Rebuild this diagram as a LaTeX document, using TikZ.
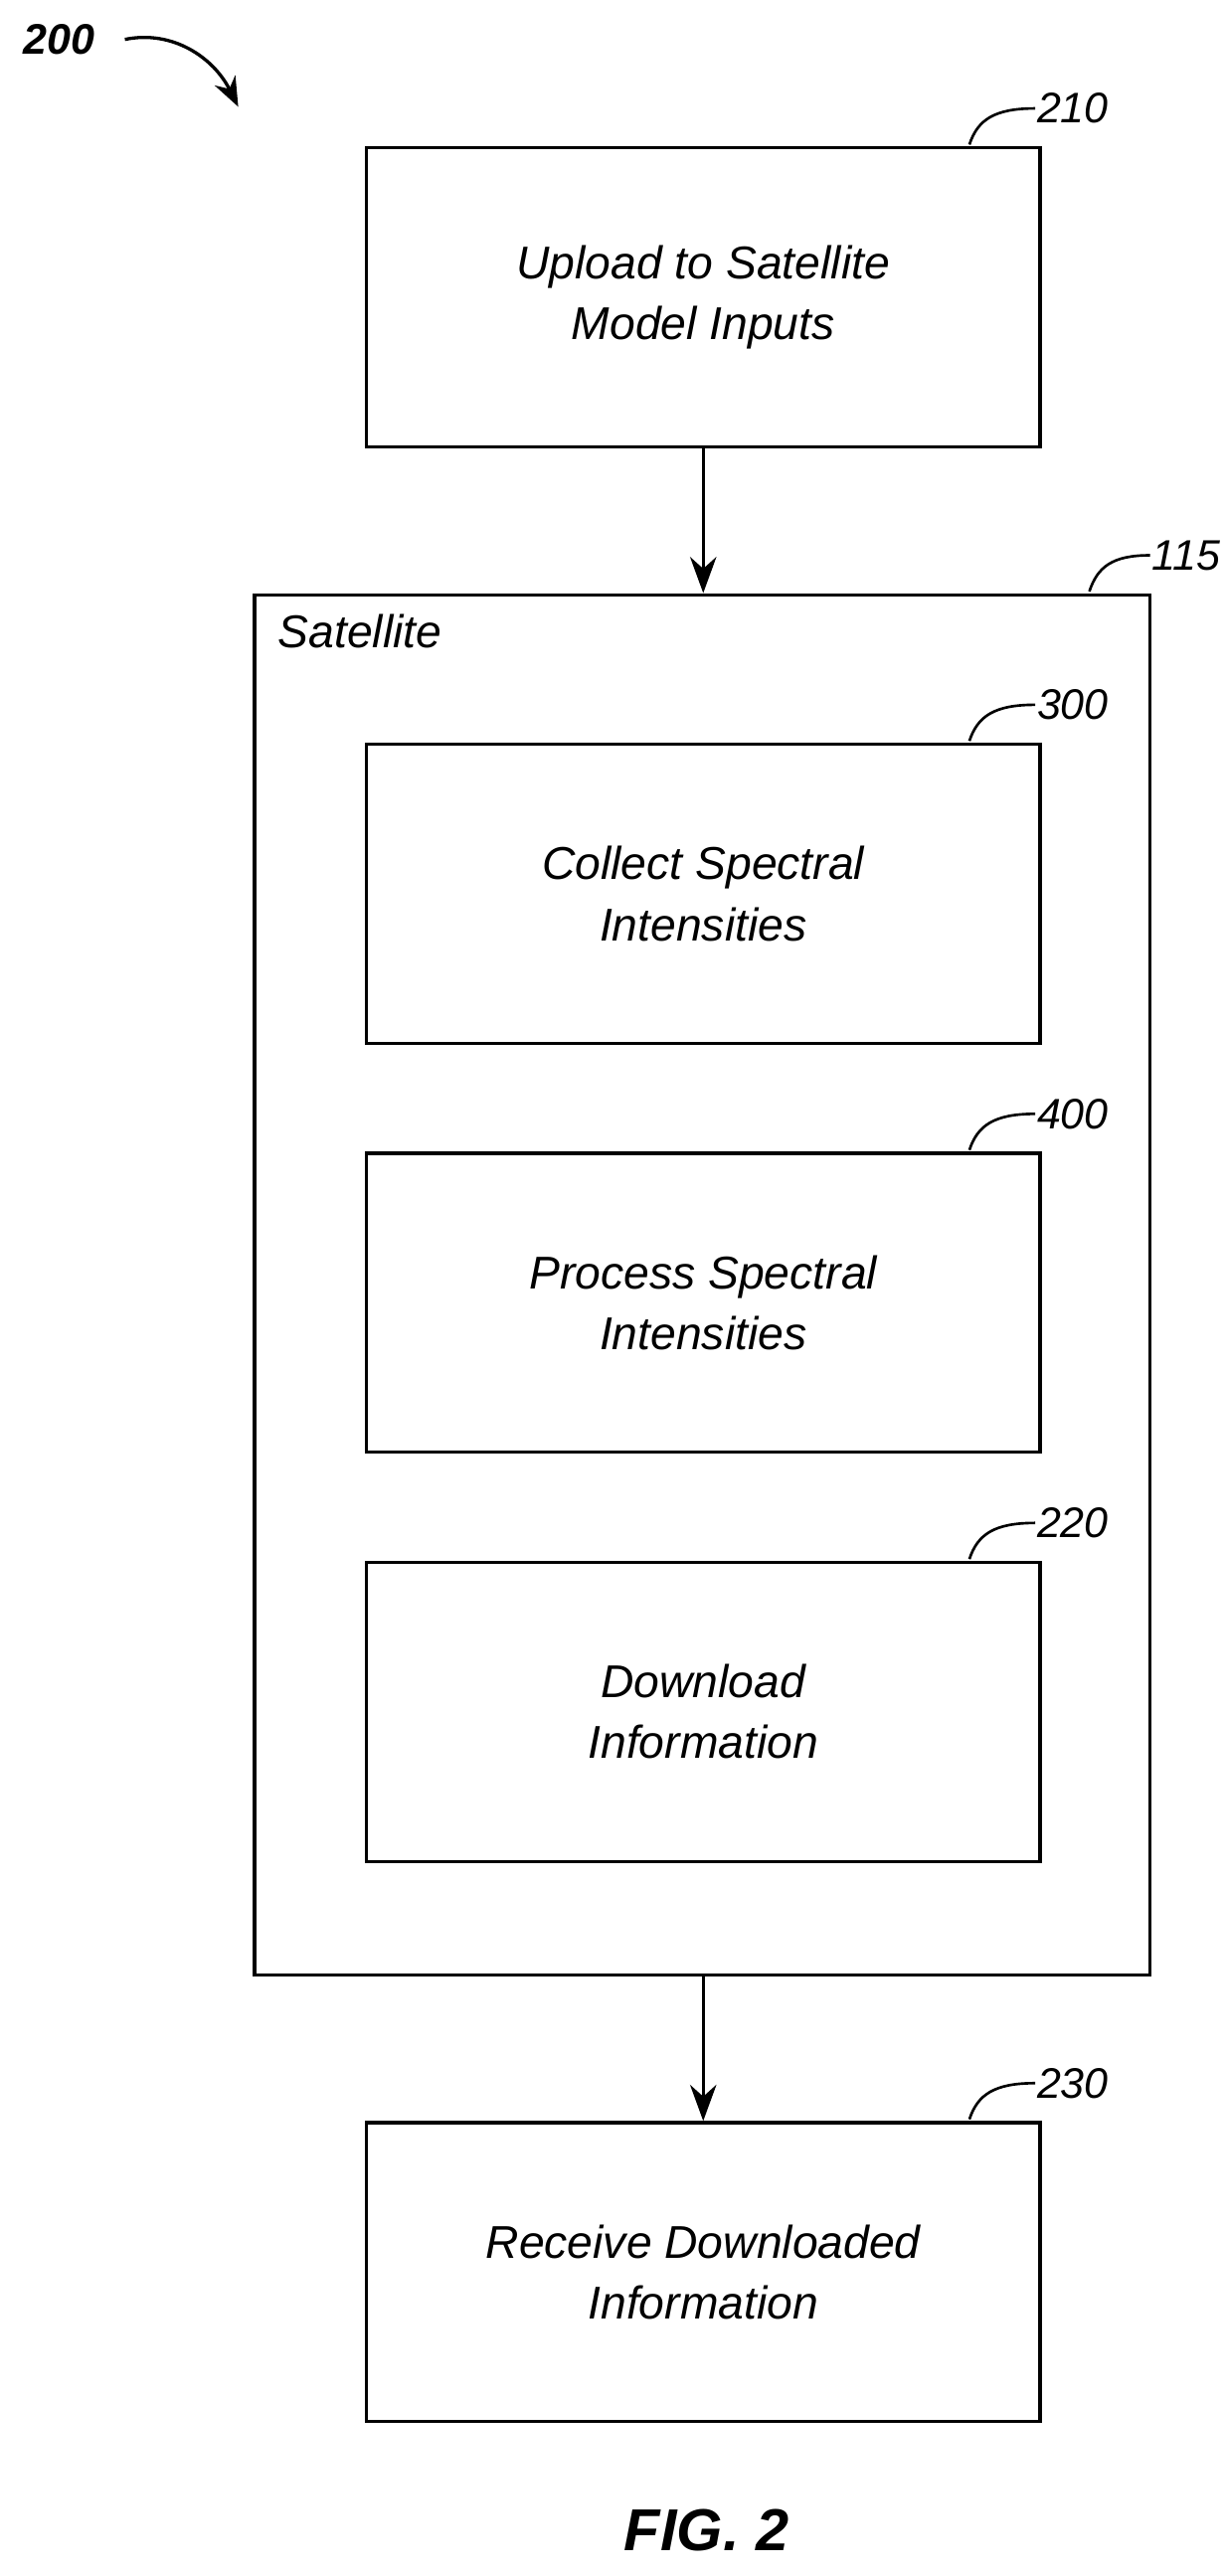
\documentclass[tikz,border=0pt]{standalone}
\usepackage{fontspec}
\setmainfont{Liberation Sans}
\usetikzlibrary{arrows.meta}
\begin{document}
\begin{tikzpicture}[x=1pt,y=-1pt,
  box/.style={draw,line width=2pt,minimum width=410pt,minimum height=182pt,align=center,font=\fontsize{28}{37}\selectfont\itshape},
  lbl/.style={font=\fontsize{26}{30}\selectfont\itshape,anchor=west,inner sep=1pt},
  arr/.style={line width=2pt,-{Stealth[length=22pt,width=16pt]}},
  sq/.style={line width=1.6pt}]
\useasboundingbox (0,0) rectangle (746,1568);
\node[box] (b210) at (428,181) {Upload to Satellite\\Model Inputs};
\node[draw,line width=2pt,minimum width=545pt,minimum height=840pt] (sat) at (427.5,782) {};
\node[lbl,font=\fontsize{28}{30}\selectfont\itshape] (satl) at (168,384) {Satellite};
\node[box] (b300) at (428,544) {Collect Spectral\\Intensities};
\node[box] (b400) at (428,793) {Process Spectral\\Intensities};
\node[box] (b220) at (428,1042) {Download\\Information};
\node[box] (b230) at (428,1383) {Receive Downloaded\\Information};
\draw[arr] (b210.south) -- (b210.south |- sat.north);
\draw[arr] (sat.south -| b230.north) -- (b230.north);
\foreach \t/\x/\y in {210/590/88, 300/590/451, 400/590/700, 220/590/949, 230/590/1290}{
  \coordinate (c\t) at (\x,\y);
  \draw[sq] (c\t) .. controls (\x+5,\y-15) and (\x+15,\y-22) .. (\x+40,\y-22);
  \node[lbl] (l\t) at (\x+40,\y-22) {\t};
}
\coordinate (c115) at (663,360);
\draw[sq] (c115) .. controls (668,345) and (677,338) .. (700,338);
\node[lbl] (l115) at (700,338) {115};
\node[font=\fontsize{26}{30}\selectfont\bfseries\itshape] (l200) at (36,24) {200};
\coordinate (t200) at (145,65);
\draw[line width=2pt,-{Stealth[length=18pt,width=14pt]}] (76,24) .. controls (105,18) and (130,35) .. (t200);
\node[font=\fontsize{36}{40}\selectfont\bfseries\itshape] (fig) at (430,1540) {FIG. 2};
\end{tikzpicture}
\end{document}
